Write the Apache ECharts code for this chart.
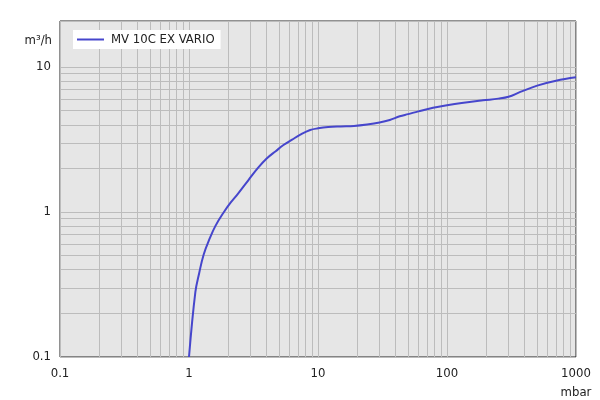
<!DOCTYPE html>
<html>
<head>
<meta charset="utf-8">
<script src="https://cdn.jsdelivr.net/npm/echarts@6/dist/echarts.min.js"></script>
<style>
html,body{margin:0;padding:0;background:#fff;}
#chart{width:600px;height:400px;}
</style>
</head>
<body>
<div id="chart"></div>
<script>
const seriesName = 'MV 10C EX VARIO';
const pressure = [1, 1.12, 1.2, 1.3, 1.45, 1.6, 1.85, 2.1, 2.4, 2.9, 3.4, 4.0, 4.7, 5.4, 6.3, 7.3, 8.7, 10, 12, 15, 19, 24, 30, 36, 43, 50, 60, 78, 100, 130, 190, 250, 300, 370, 500, 700, 1000];
const speed    = [0.1, 0.28, 0.38, 0.51, 0.66, 0.8, 0.99, 1.16, 1.34, 1.67, 2.0, 2.34, 2.63, 2.9, 3.16, 3.42, 3.68, 3.78, 3.86, 3.9, 3.93, 4.02, 4.15, 4.32, 4.58, 4.74, 4.95, 5.24, 5.46, 5.66, 5.9, 6.06, 6.24, 6.74, 7.45, 8.05, 8.5];
const xTickLabels = ['0.1', '1', '10', '100', '1000'];
const yTickLabels = ['0.1', '1', '10'];
const xDecades = [0.1, 1, 10, 100];
const yDecades = [0.1, 1];
const minorMultipliers = [2, 3, 4, 5, 6, 7, 8, 9];

const xMinorGrid = [];
xDecades.forEach(d => minorMultipliers.forEach(m => xMinorGrid.push(+(d * m).toPrecision(6))));
const yMinorGrid = [];
yDecades.forEach(d => minorMultipliers.forEach(m => yMinorGrid.push(+(d * m).toPrecision(6))));

const font = '"DejaVu Sans Condensed", "DejaVu Sans", sans-serif';
const gridColor = '#bcbcbc';
const lineColor = '#4646cc';

const chart = echarts.init(document.getElementById('chart'), null, {renderer: 'canvas'});
chart.setOption({
  animation: false,
  textStyle: {fontFamily: font},
  grid: {
    left: 60, right: 24, top: 21, bottom: 43,
    show: true, backgroundColor: '#e6e6e6', borderColor: '#222', borderWidth: 1
  },
  legend: {
    data: [{name: seriesName, icon: 'rect'}],
    left: 73, top: 30, z: 20,
    backgroundColor: '#ffffff',
    padding: [3, 6, 3, 4],
    itemWidth: 27, itemHeight: 2,
    itemStyle: {color: lineColor},
    textStyle: {fontFamily: font, fontSize: 13, color: '#222', padding: [0, 0, 0, 2]}
  },
  xAxis: {
    type: 'log', logBase: 10, min: 0.1, max: 1000,
    name: 'mbar', nameLocation: 'end', nameGap: 0,
    nameTextStyle: {fontFamily: font, fontSize: 13, color: '#222', align: 'center', verticalAlign: 'top', padding: [29, 0, 0, 0]},
    axisLine: {show: false}, axisTick: {show: false},
    axisLabel: {
      fontFamily: font, fontSize: 13, color: '#222', margin: 10,
      formatter: v => { const s = String(+v.toPrecision(6)); return xTickLabels.includes(s) ? s : ''; }
    },
    splitLine: {show: true, lineStyle: {color: gridColor, width: 1}}
  },
  yAxis: {
    type: 'log', logBase: 10, min: 0.1, max: 20.8,
    name: 'm³/h', nameLocation: 'end', nameGap: -20,
    nameTextStyle: {fontFamily: font, fontSize: 13, color: '#222', align: 'right', verticalAlign: 'middle', padding: [0, 8, 0, 0]},
    axisLine: {show: false}, axisTick: {show: false},
    axisLabel: {
      fontFamily: font, fontSize: 13, color: '#222', margin: 9, showMaxLabel: false,
      formatter: v => { const s = String(+v.toPrecision(6)); return yTickLabels.includes(s) ? s : ''; }
    },
    splitLine: {show: true, lineStyle: {color: gridColor, width: 1}}
  },
  series: [
    {
      name: 'grid-minor',
      type: 'line',
      data: [],
      z: 1,
      silent: true,
      markLine: {
        silent: true,
        symbol: ['none', 'none'],
        label: {show: false},
        lineStyle: {color: gridColor, width: 1, type: 'solid'},
        emphasis: {disabled: true},
        data: xMinorGrid.map(v => ({xAxis: v})).concat(yMinorGrid.map(v => ({yAxis: v})))
      }
    },
    {
      name: seriesName,
      type: 'line',
      z: 5,
      data: pressure.map((p, i) => [p, speed[i]]),
      showSymbol: false,
      symbol: 'none',
      smooth: 0.4,
      lineStyle: {color: lineColor, width: 2},
      itemStyle: {color: lineColor}
    }
  ]
});
</script>
</body>
</html>
